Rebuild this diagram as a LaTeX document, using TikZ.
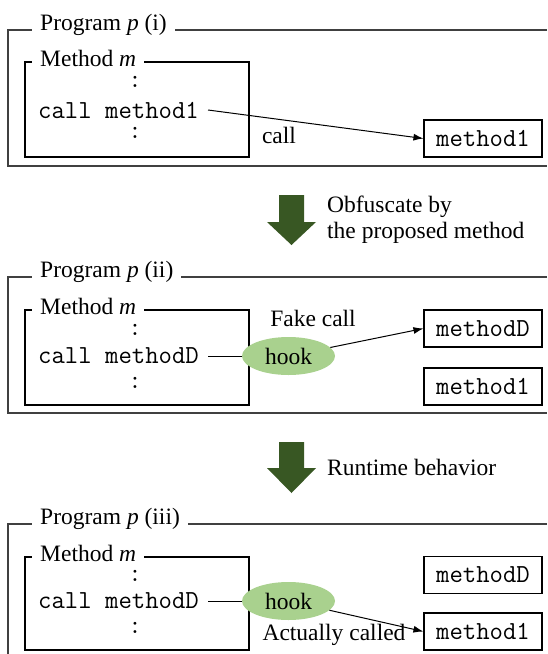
\documentclass[tikz,border=0pt]{standalone}
\usepackage{fontspec}
\setmainfont{Liberation Serif}
\usetikzlibrary{shapes.geometric,arrows.meta}
\definecolor{darkgreen}{HTML}{385723}
\definecolor{lightgreen}{HTML}{A9D18E}
\begin{document}
\begin{tikzpicture}[x=1pt,y=-1pt,
  font=\fontsize{23.5}{27}\selectfont,
  frame/.style={line width=1.2pt, draw=black!75},
  methodbox/.style={draw, line width=1.1pt, minimum width=224pt, inner sep=0pt},
  titlebox/.style={fill=white, anchor=base west, inner xsep=8pt, inner ysep=3pt},
  code/.style={font=\fontsize{26}{30}\selectfont\ttfamily, inner xsep=9pt, inner ysep=0pt},
  mbox/.style={draw, line width=1.1pt, minimum width=118pt, minimum height=37pt, inner sep=0pt, font=\fontsize{26}{30}\selectfont\ttfamily},
  hookshape/.style={ellipse, fill=lightgreen, minimum width=93pt, minimum height=38pt, inner sep=0pt},
  link/.style={line width=1pt},
  arr/.style={line width=1pt, -{Latex[length=10pt,width=7pt]}},
  plain/.style={anchor=base west, inner sep=0pt}
]
\useasboundingbox (0,0) rectangle (547,654);

% ---------- Panel (i) ----------
\draw[frame] (547,30) -- (8,30) -- (8,166) -- (547,166);
\node[titlebox] (t1) at (32,30) {Program \textit{p} (i)};
\node[methodbox, minimum height=95pt] (m1) at (137,109.5) {};
\node[titlebox] (mt1) at (32,66) {Method \textit{m}};
\node[code] (d1a) at (135,82) {:};
\node[code] (c1) at (118.5,110) {call method1};
\node[code] (d1b) at (135,133) {:};
\node[mbox] (f1) at (483,138.5) {method1};
\draw[arr] (c1.east) -- (f1.west);
\node (l1) at (279,135) {call};

% ---------- Arrow 1 ----------
\fill[darkgreen] (279,195) -- (304,195) -- (304,222) -- (316,222) -- (291.5,245) -- (267,222) -- (279,222) -- cycle;
\node[plain] (o1) at (327,212) {Obfuscate by};
\node[plain] (o2) at (327,238) {the proposed method};

% ---------- Panel (ii) ----------
\draw[frame] (547,277) -- (8,277) -- (8,413) -- (547,413);
\node[titlebox] (t2) at (32,277) {Program \textit{p} (ii)};
\node[methodbox, minimum height=95pt] (m2) at (137,357.5) {};
\node[titlebox] (mt2) at (32,314) {Method \textit{m}};
\node[code] (d2a) at (135,330) {:};
\node[code] (c2) at (118.5,356) {call methodD};
\node[code] (d2b) at (135,383) {:};
\node[hookshape] (h2) at (288.5,356) {hook};
\draw[link] (c2.east) -- (h2.west);
\node (fc) at (313,318) {Fake call};
\node[mbox] (f2d) at (483,328.5) {methodD};
\node[mbox] (f2one) at (483,386.5) {method1};
\draw[arr] (h2) -- (f2d.west);

% ---------- Arrow 2 ----------
\fill[darkgreen] (279,442) -- (304,442) -- (304,468) -- (316,468) -- (291.5,493) -- (267,468) -- (279,468) -- cycle;
\node[plain] (rb) at (327,475) {Runtime behavior};

% ---------- Panel (iii) ----------
\draw[frame] (547,524) -- (8,524) -- (8,654);
\node[titlebox] (t3) at (32,524) {Program \textit{p} (iii)};
\node[methodbox, minimum height=93pt] (m3) at (137,603.5) {};
\node[titlebox] (mt3) at (32,561) {Method \textit{m}};
\node[code] (d3a) at (135,576) {:};
\node[code] (c3) at (118.5,601) {call methodD};
\node[code] (d3b) at (135,628) {:};
\node[hookshape] (h3) at (288.5,601) {hook};
\draw[link] (c3.east) -- (h3.west);
\node (ac) at (334,635) {Actually called};
\node[mbox] (f3d) at (483,575) {methodD};
\node[mbox] (f3one) at (483,631.5) {method1};
\draw[arr] (h3) -- (f3one.west);
\end{tikzpicture}
\end{document}
